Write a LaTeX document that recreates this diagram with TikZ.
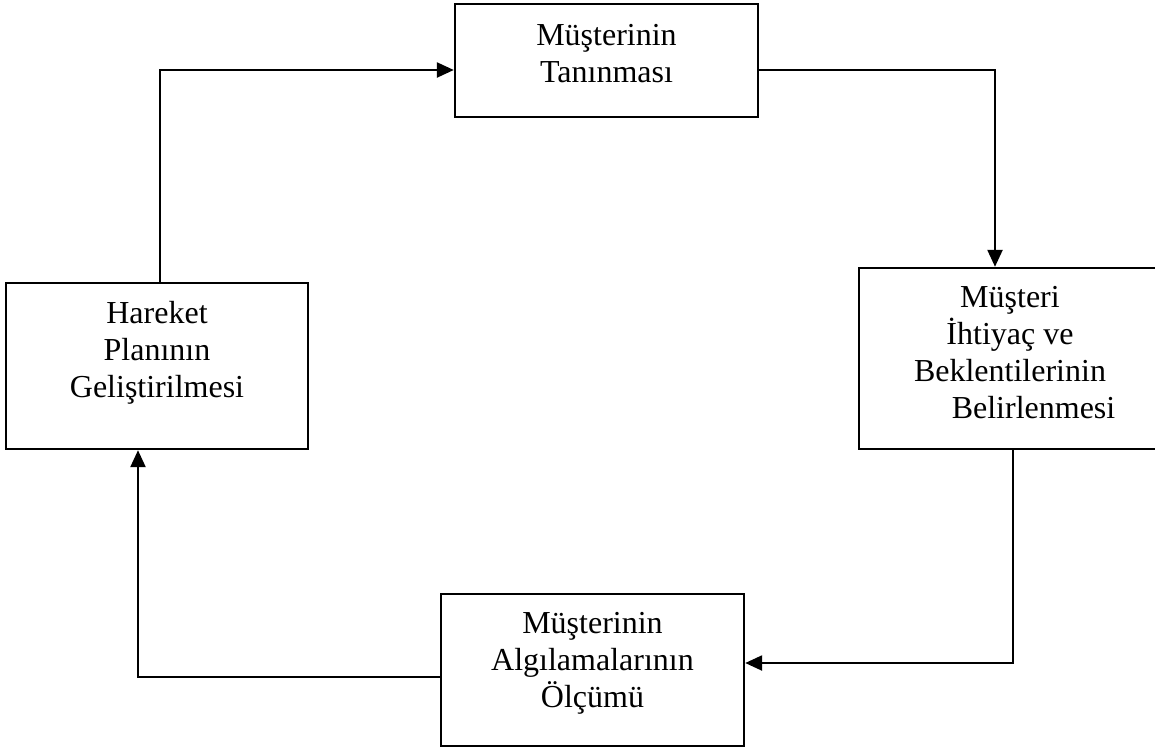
\documentclass[tikz,border=0pt]{standalone}
\usepackage{fontspec}
\setmainfont{Liberation Serif}
\usetikzlibrary{arrows.meta}
\begin{document}
\begin{tikzpicture}[x=1pt,y=-1pt,
  stepbox/.style={draw=black,line width=2.4pt,rectangle,inner sep=0pt},
  txt/.style={align=center,inner sep=0pt,anchor=base,font=\fontsize{32}{37}\selectfont},
  arr/.style={line width=2.4pt,-{Triangle[length=17pt,width=15pt]}}]
\useasboundingbox (0,0) rectangle (1155,747);
\begin{scope}
\clip (0,0) rectangle (1155,747);
\node[stepbox,minimum width=303pt,minimum height=113pt] (top) at (606.5,60.5) {};
\node[stepbox,minimum width=301pt,minimum height=181pt] (right) at (1009.5,358.5) {};
\node[stepbox,minimum width=303pt,minimum height=152pt] (bottom) at (592.5,670) {};
\node[stepbox,minimum width=302pt,minimum height=166pt] (left) at (157,366) {};
\end{scope}
\node[txt] (ttop) at (606.5,82) {Müşterinin\\Tanınması};
\node[txt] (tright) at (1010,418) {Müşteri\\İhtiyaç ve\\Beklentilerinin\\\hspace*{47pt}Belirlenmesi};
\node[txt] (tbottom) at (592.5,707) {Müşterinin\\Algılamalarının\\Ölçümü};
\node[txt] (tleft) at (157,397) {Hareket\\Planının\\Geliştirilmesi};
\coordinate (c1) at (995,70);
\coordinate (c2) at (1013,663);
\coordinate (c3) at (138,677);
\coordinate (c4) at (160,70);
\draw[arr] (top.east |- c1) -| (right.north -| c1);
\draw[arr] (right.south -| c2) |- (bottom.east |- c2);
\draw[arr] (bottom.west |- c3) -| (left.south -| c3);
\draw[arr] (left.north -| c4) |- (top.west |- c4);
\end{tikzpicture}
\end{document}
